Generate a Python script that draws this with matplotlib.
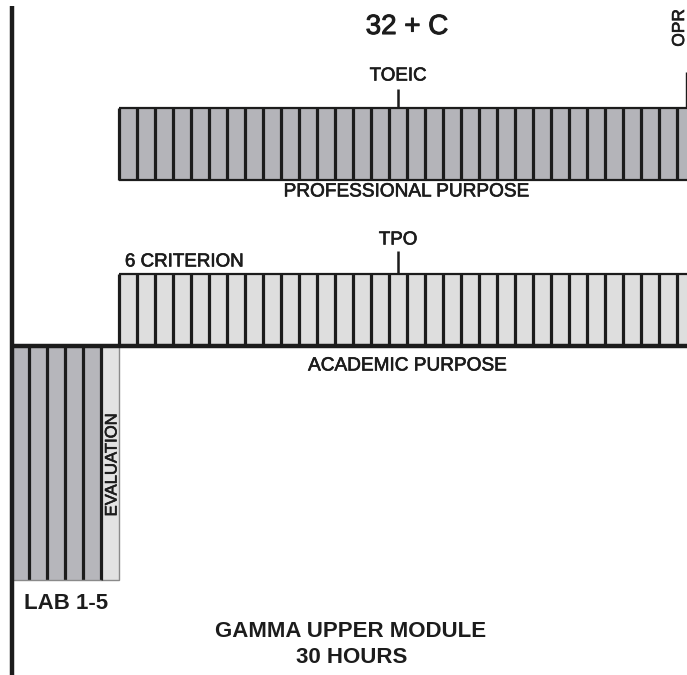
import numpy as np
import matplotlib
matplotlib.use("Agg")
import matplotlib.pyplot as plt
import matplotlib.patheffects as pe

plt.rcParams['font.family'] = ['Liberation Sans', 'DejaVu Sans']

# données (1 unité = 1 séance / 1 heure)
prof_cells = np.arange(32)          # cases PROFESSIONAL PURPOSE
prof_bottom, prof_height = 9.2, 4.0
acad_cells = np.arange(32)          # cases ACADEMIC PURPOSE
acad_bottom, acad_height = 0.0, 4.0
lab_cells = np.array([-6, -5, -4, -3, -2])   # LAB 1-5
eval_cells = np.array([-1])                  # EVALUATION
lab_depth = -13.0

markers = ["TOEIC", "TPO", "OPR"]
marker_x = [15.5, 15.5, 31.5]
marker_base = [prof_bottom + prof_height, acad_bottom + acad_height, prof_bottom + prof_height]
marker_top = [14.28, 5.28, 15.22]

# couleurs
c_prof = "#b4b4b9"
c_acad = "#dedede"
c_lab = "#b6b6bb"
c_eval = "#e2e2e2"
c_line = "#1c1c1c"

# texte un peu plus épais (imitation Helvetica imprimée)
thick = [pe.withStroke(linewidth=0.45, foreground=c_line)]

fig = plt.figure(figsize=(6.87, 6.75), dpi=100)
ax = fig.add_axes([0, 0, 1, 1])
ax.set_xlim(-119 / 18, 568 / 18)
ax.set_ylim(-329 / 18, 346 / 18)
ax.axis("off")

# barres
ax.bar(prof_cells, prof_height, bottom=prof_bottom, width=1, align="edge",
       color=c_prof, edgecolor="none")
ax.bar(acad_cells, acad_height, bottom=acad_bottom, width=1, align="edge",
       color=c_acad, edgecolor="none")
ax.bar(lab_cells, lab_depth, width=1, align="edge", color=c_lab, edgecolor="none")
ax.bar(eval_cells, lab_depth, width=1, align="edge", color=c_eval,
       edgecolor="#8a8a8a", lw=1)

# séparateurs
ax.vlines(np.append(prof_cells, prof_cells[-1] + 1), prof_bottom, prof_bottom + prof_height,
          color=c_line, lw=2.3)
ax.hlines([prof_bottom, prof_bottom + prof_height], prof_cells[0], prof_cells[-1] + 1,
          color=c_line, lw=1.6)
ax.vlines(np.append(acad_cells, acad_cells[-1] + 1), acad_bottom, acad_bottom + acad_height,
          color=c_line, lw=2.3)
ax.hlines(acad_bottom + acad_height, acad_cells[0], acad_cells[-1] + 1, color=c_line, lw=1.6)
ax.vlines(lab_cells[1:], lab_depth, 0, color=c_line, lw=2.3)
ax.vlines(eval_cells, lab_depth, 0, color=c_line, lw=2.3)
ax.hlines(lab_depth, lab_cells[0], eval_cells[-1], color="#8a8a8a", lw=1)

# ligne de base + axe gauche
ax.hlines(0, lab_cells[0], acad_cells[-1] + 1, color=c_line, lw=3.2)
ax.vlines(lab_cells[0] + 0.06, -20, 18.89, color=c_line, lw=3.2)

# repères
for name, mx, b, t in zip(markers, marker_x, marker_base, marker_top):
    lw = 1.0 if name == "OPR" else 1.8
    ax.vlines(mx, b, t, color=c_line, lw=lw)

ax.text(15.5, 15.0, "TOEIC", ha="center", va="center", fontsize=13.5, color=c_line, path_effects=thick)
ax.text(15.5, 5.89, "TPO", ha="center", va="center", fontsize=13.5, color=c_line, path_effects=thick)
ax.text(31.14, 17.67, "OPR", ha="center", va="center", rotation=90, fontsize=12.5, color=c_line,
        path_effects=thick)
ax.text(16.0, 17.72, "32 + C", ha="center", va="center", fontsize=20, color=c_line,
        path_effects=[pe.withStroke(linewidth=0.7, foreground=c_line)])
ax.text(15.94, 8.56, "PROFESSIONAL PURPOSE", ha="center", va="center", fontsize=13.7, color=c_line,
        path_effects=thick)
ax.text(0.33, 4.67, "6 CRITERION", ha="left", va="center", fontsize=13.5, color=c_line,
        path_effects=thick)
ax.text(16.0, -1.11, "ACADEMIC PURPOSE", ha="center", va="center", fontsize=13.7, color=c_line,
        path_effects=thick)
ax.text(-0.39, -6.61, "EVALUATION", ha="center", va="center", rotation=90, fontsize=12, color=c_line,
        path_effects=thick)
ax.text(-2.94, -14.33, "LAB 1-5", ha="center", va="center", fontsize=16, fontweight="bold", color=c_line)
ax.text(12.89, -15.86, "GAMMA UPPER MODULE", ha="center", va="center", fontsize=16,
        fontweight="bold", color=c_line)
ax.text(12.94, -17.31, "30 HOURS", ha="center", va="center", fontsize=16,
        fontweight="bold", color=c_line)

fig.savefig("out.png", dpi=100)
